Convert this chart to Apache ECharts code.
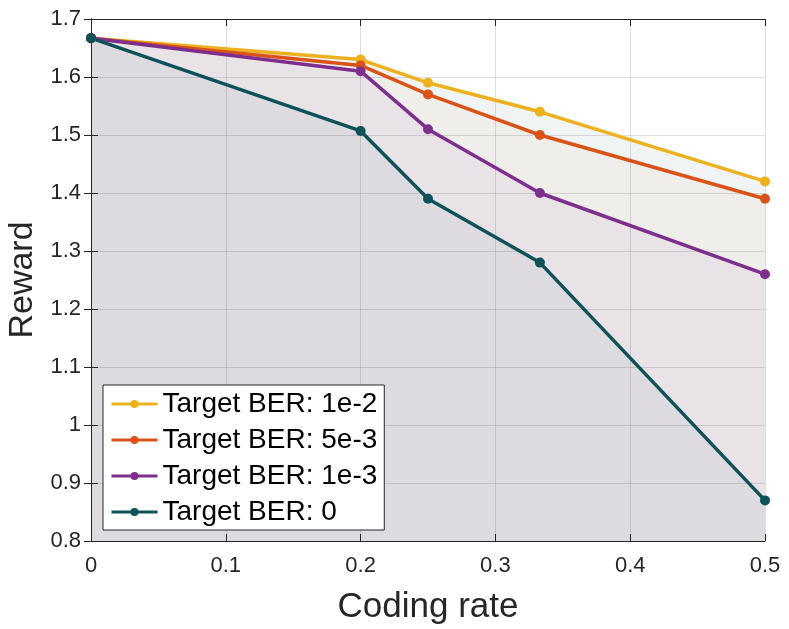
<!DOCTYPE html>
<html>
<head>
<meta charset="utf-8">
<script src="https://cdn.jsdelivr.net/npm/echarts@6/dist/echarts.min.js"></script>
<style>
  html, body { margin: 0; padding: 0; background: #fff; }
  #chart { width: 789px; height: 629px; }
</style>
</head>
<body>
<div id="chart"></div>
<script>
// Coding rate values (x)
const codingRate = [0, 0.2, 0.25, 0.333, 0.5];

// Reward for each target BER
const ber1e2 = [1.667, 1.63, 1.59, 1.54, 1.42];
const ber5e3 = [1.667, 1.62, 1.57, 1.50, 1.39];
const ber1e3 = [1.667, 1.61, 1.51, 1.40, 1.26];
const ber0 = [1.667, 1.507, 1.39, 1.28, 0.87];

const seriesNames = ['Target BER: 1e-2', 'Target BER: 5e-3', 'Target BER: 1e-3', 'Target BER: 0'];
const lineColors = ['#EDB120', '#D95319', '#7E2F8E', '#0E5159'];
const fillColors = ['#F1F4F5', '#EFEEEB', '#E9E3E7', '#DEDBE0'];

const chart = echarts.init(document.getElementById('chart'));
const textColor = '#262626';
const font = 'Liberation Sans, Arial, sans-serif';

const allData = [ber1e2, ber5e3, ber1e3, ber0];
const pairs = ys => codingRate.map((x, i) => [x, ys[i]]);

const series = [];
// filled areas (drawn below grid lines)
allData.forEach((ys, k) => {
    series.push({
        type: 'line',
        data: pairs(ys),
        z: 1,
        silent: true,
        showSymbol: false,
        lineStyle: { width: 0, opacity: 0 },
        areaStyle: { color: fillColors[k], opacity: 1, origin: 'start' }
    });
});
// lines with markers
allData.forEach((ys, k) => {
    series.push({
        name: seriesNames[k],
        type: 'line',
        data: pairs(ys),
        z: 5,
        symbol: 'circle',
        symbolSize: 10,
        color: lineColors[k],
        lineStyle: { width: 3.5, color: lineColors[k] },
        itemStyle: { color: lineColors[k] }
    });
});

const gridLine = { show: true, lineStyle: { color: 'rgba(38,38,38,0.15)', width: 1 } };

const option = {
    animation: false,
    grid: { left: 91, right: 24, top: 19, bottom: 88, containLabel: false, outerBoundsMode: 'none' },
    legend: {
        data: seriesNames,
        orient: 'vertical',
        left: 103,
        top: 385,
        padding: [5, 7, 4, 7],
        itemGap: 8,
        itemWidth: 46,
        itemHeight: 10,
        lineStyle: { width: 3 },
        backgroundColor: '#fff',
        borderColor: textColor,
        borderWidth: 1,
        borderRadius: 0,
        z: 10,
        textStyle: { fontSize: 28, lineHeight: 28, color: '#000', fontFamily: font }
    },
    xAxis: [{
        type: 'value',
        min: 0, max: 0.5, interval: 0.1,
        z: 3,
        name: 'Coding rate',
        nameLocation: 'middle',
        nameGap: 49,
        nameTextStyle: { fontSize: 35, color: textColor, fontFamily: font },
        axisLine: { show: true, lineStyle: { color: textColor, width: 1 } },
        axisTick: { show: true, inside: true, length: 7, lineStyle: { color: textColor } },
        axisLabel: { fontSize: 22, color: textColor, margin: 14, fontFamily: font },
        splitLine: gridLine
    }, {
        type: 'value',
        position: 'top',
        min: 0, max: 0.5, interval: 0.1,
        z: 3,
        axisLine: { show: true, lineStyle: { color: textColor, width: 1 } },
        axisTick: { show: true, inside: true, length: 7, lineStyle: { color: textColor } },
        axisLabel: { show: false },
        splitLine: { show: false }
    }],
    yAxis: [{
        type: 'value',
        min: 0.8, max: 1.7, interval: 0.1,
        z: 3,
        name: 'Reward',
        nameLocation: 'middle',
        nameGap: 51,
        nameTextStyle: { fontSize: 34, color: textColor, fontFamily: font },
        axisLine: { show: true, lineStyle: { color: textColor, width: 1 } },
        axisTick: { show: true, inside: true, length: 7, lineStyle: { color: textColor } },
        axisLabel: { fontSize: 22, color: textColor, margin: 10, fontFamily: font },
        splitLine: gridLine
    }, {
        type: 'value',
        position: 'right',
        min: 0.8, max: 1.7, interval: 0.1,
        z: 3,
        axisLine: { show: true, lineStyle: { color: textColor, width: 1 } },
        axisTick: { show: true, inside: true, length: 7, lineStyle: { color: textColor } },
        axisLabel: { show: false },
        splitLine: { show: false }
    }],
    series: series
};

chart.setOption(option);
</script>
</body>
</html>
